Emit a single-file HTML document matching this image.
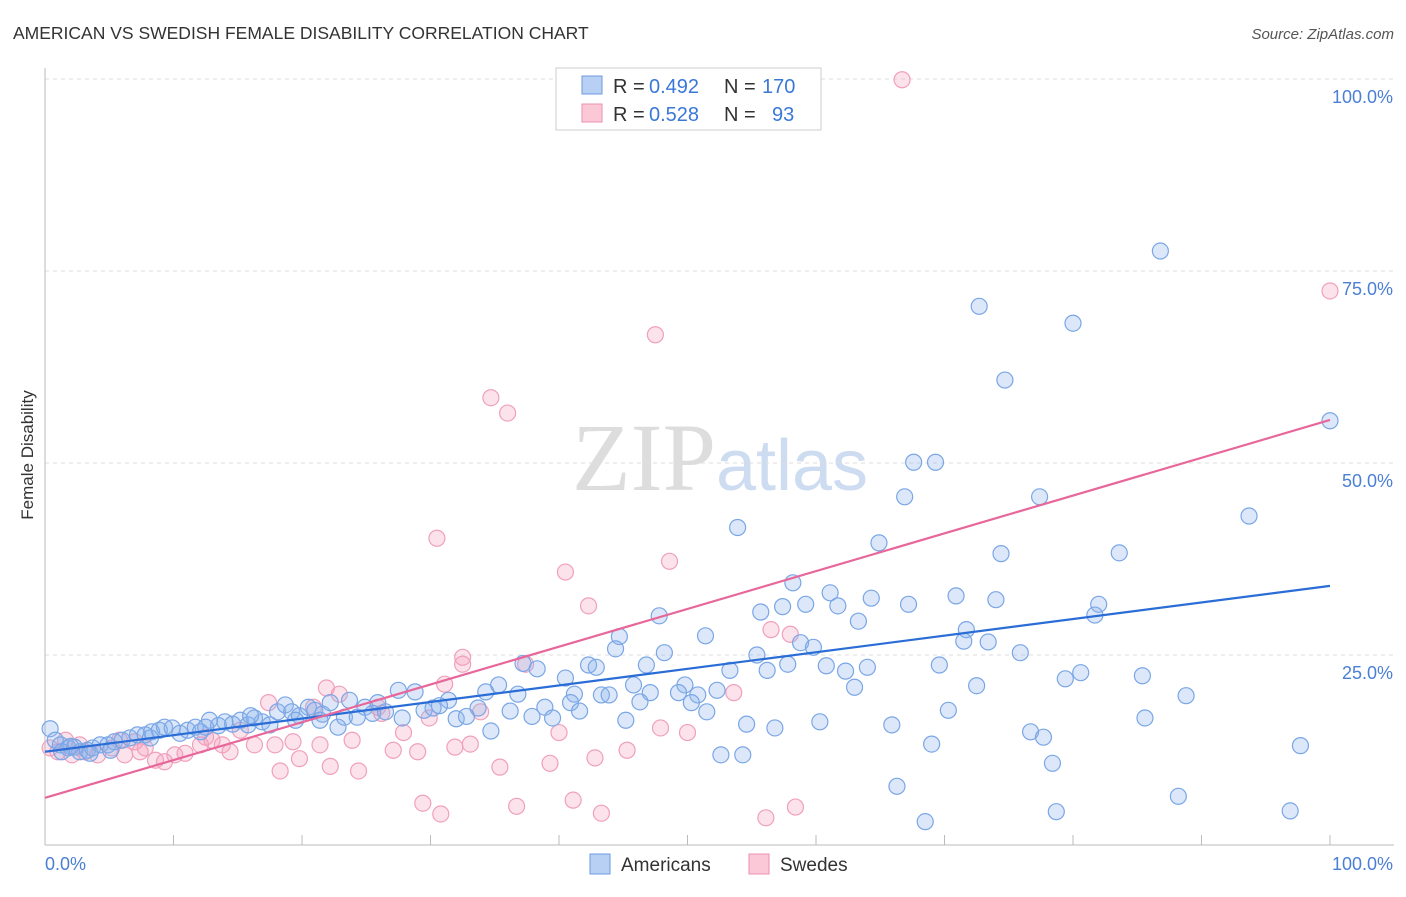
<!DOCTYPE html>
<html><head><meta charset="utf-8"><style>
body{margin:0;background:#fff;font-family:"Liberation Sans",sans-serif}
</style></head><body>
<svg id="chart" width="1406" height="892" xmlns="http://www.w3.org/2000/svg" font-family="Liberation Sans, sans-serif">
<text x="13" y="39" font-size="17.5" fill="#333">AMERICAN VS SWEDISH FEMALE DISABILITY CORRELATION CHART</text>
<text x="1394" y="39" font-size="15" fill="#555" text-anchor="end" font-style="italic">Source: ZipAtlas.com</text>
<text x="720" y="490" font-size="96" text-anchor="middle" fill="#ddd" font-family="Liberation Serif, serif">ZIP<tspan fill="#cddcf0" font-family="Liberation Sans, sans-serif" font-size="72">atlas</tspan></text>
<text transform="translate(33,455) rotate(-90)" font-size="17" fill="#333" text-anchor="middle">Female Disability</text>
<g id="grid"></g><g id="pts"></g><g id="trend"></g>
<g font-size="20">
<rect x="556" y="68" width="265" height="62" fill="#fff" stroke="#ccc"/>
<rect x="582" y="76" width="20" height="18" fill="#b7d0f3" stroke="#6c9be0"/>
<rect x="582" y="104" width="20" height="18" fill="#fbc8d8" stroke="#ee8fb0"/>
<text x="613" y="93" fill="#333">R =</text><text x="649" y="93" fill="#3a78d8">0.492</text>
<text x="724" y="93" fill="#333">N =</text><text x="762" y="93" fill="#3a78d8">170</text>
<text x="613" y="121" fill="#333">R =</text><text x="649" y="121" fill="#3a78d8">0.528</text>
<text x="724" y="121" fill="#333">N =</text><text x="772" y="121" fill="#3a78d8">93</text>
</g>
<g>
<rect x="590" y="854" width="20" height="20" fill="#b7d0f3" stroke="#6c9be0"/>
<text x="621" y="871" font-size="19" fill="#333">Americans</text>
<rect x="749" y="854" width="20" height="20" fill="#fbc8d8" stroke="#ee8fb0"/>
<text x="780" y="871" font-size="19" fill="#333">Swedes</text>
</g>
</svg>
<script>
const blueX=[86.8,72.7,80,74.7,100,67.6,69.3,66.9,77.4,53.9,93.7,64.9,74.4,83.6,58.2,61.1,64.3,70.9,74,55.7,57.4,59.2,61.7,67.2,82,81.7,47.8,63.3,71.7,51.4,44.7,71.5,73.4,58.8,59.8,48.2,44.4,75.9,55.4,37.2,38.3,42.3,42.9,46.8,57.8,60.8,62.3,64,69.6,56.2,53.3,40.5,80.6,79.4,85.4,45.8,49.8,63,72.5,35.3,34.3,27.5,28.8,36.8,41.2,43.3,43.9,47.1,49.3,50.8,52.3,88.8,46.3,50.3,31.4,23.7,25.9,33.7,36.2,38.9,40.9,41.6,51.5,70.3,32,32.8,37.9,39.5,45.2,85.6,34.7,54.6,56.8,60.3,65.9,76.7,77.7,69,97.7,52.6,54.3,78.4,66.3,88.2,78.7,96.9,68.5,0.4,0.8,1.2,1.8,2.3,2.7,3.3,3.7,4.3,4.9,5.4,6,6.6,7.2,7.8,8.3,8.9,9.3,9.9,10.5,11.1,11.7,12.1,12.8,13.5,14,14.6,15.2,15.8,16.3,16.9,17.5,18.1,18.7,19.2,19.8,20.5,21,21.6,22.2,22.8,23.3,24.3,24.9,25.5,26.5,27.8,29.5,30.2,30.7,21.4,19.5,16,12.5,8.2,5.1,3.5,2,1.3];
const blueY=[77.6,70.4,68.2,60.8,55.5,50.1,50.1,45.6,45.6,41.6,43.1,39.6,38.2,38.3,34.4,33.1,32.4,32.7,32.2,30.6,31.3,31.6,31.4,31.6,31.6,30.2,30.1,29.4,28.3,27.5,27.4,26.8,26.7,26.6,26,25.3,25.8,25.3,25,23.9,23.2,23.7,23.4,23.7,23.8,23.6,22.9,23.4,23.7,23,23,22,22.7,21.9,22.3,21.1,21.1,20.8,21,21.1,20.2,20.4,20.2,19.9,19.9,19.8,19.8,20.1,20.1,19.8,20.4,19.7,18.9,18.8,19.1,19.1,18.8,18.1,17.7,18.2,18.8,17.7,17.6,17.8,16.7,17,17,16.8,16.5,16.8,15.1,16,15.5,16.3,15.9,15,14.3,13.4,13.2,12,12,10.9,7.9,6.6,4.6,4.7,3.3,15.4,13.9,13.3,12.9,13,12.4,12.6,12.9,13.3,13.3,13.7,13.9,14.2,14.6,14.6,15,15.2,15.6,15.5,14.8,15.2,15.6,15,16.5,15.8,16.3,16,16.5,15.9,16.8,16.3,15.9,17.6,18.5,17.6,17.1,18.2,17.8,17.3,18.8,15.6,16.9,16.9,18.2,17.4,17.6,16.8,17.8,18.1,18.4,16.5,16.5,17.1,15.6,14.2,12.6,12.2,13.1,12.4];
const pinkX=[66.7,100,47.5,34.7,36,30.5,48.6,40.5,42.3,56.5,58,32.5,32.5,37.4,21.9,31.1,53.6,17.4,22.9,25.9,20.9,33.9,26.2,29.9,47.9,27.9,50,40,23.9,19.3,21.4,33.1,31.9,45.3,17.9,27.1,29,19.8,42.8,39.3,22.2,35.4,24.4,18.3,29.4,41.1,36.7,58.4,30.8,43.3,56.1,0.4,1,1.6,2.1,3.1,4.1,5.2,6.2,7,7.8,8.6,9.3,10.1,10.9,12.1,13,13.8,14.4,15.2,16.3,5.8,2.7,12.5,7.4];
const pinkY=[99.9,72.4,66.7,58.5,56.5,40.2,37.2,35.8,31.4,28.3,27.7,24.7,23.8,23.8,20.7,21.2,20.1,18.8,19.9,18.2,18.2,17.6,17.4,16.8,15.5,14.9,14.9,14.9,13.9,13.7,13.3,13.4,13,12.6,13.3,12.6,12.4,11.5,11.6,10.9,10.5,10.4,9.9,9.9,5.7,6.1,5.3,5.2,4.3,4.4,3.8,12.9,12.4,13.9,12,12.4,12,12.9,12,13.7,12.9,11.3,11.1,12,12.2,13.3,13.9,13.3,12.4,15.2,13.3,13.9,13.3,14.3,12.4];
const blueTrend=[12.4,34];
const pinkTrend=[6.4,55.6];
const yTicks=[25,50,75,100];
const xTicks=[0,10,20,30,40,50,60,70,80,90,100];
const NS="http://www.w3.org/2000/svg";
const X=v=>45+v*12.85, Y=v=>847-v*7.68;
function mk(tag,attrs,parent){const e=document.createElementNS(NS,tag);for(const k in attrs)e.setAttribute(k,attrs[k]);parent.appendChild(e);return e;}
const grid=document.getElementById('grid');
for(const t of yTicks){
 const l=mk('line',{x1:45,x2:1394,y1:Y(t),y2:Y(t),stroke:'#ddd','stroke-dasharray':'4,4'},grid);
 
 
 const tx=mk('text',{x:1393,y:Y(t)+24,'font-size':18,fill:'#4a7fd4','text-anchor':'end'},grid);
 tx.textContent=t.toFixed(1)+'%';
 
 
}
const ax=mk('line',{x1:45,x2:1394,y1:845,y2:845,stroke:'#bbb'},grid);


const ay=mk('line',{x1:45,x2:45,y1:68,y2:845,stroke:'#bbb'},grid);


for(const t of xTicks){
 const l=mk('line',{x1:X(t),x2:X(t),y1:835,y2:845,stroke:'#bbb'},grid);
 
 
}
const xl0=mk('text',{x:45,y:870,'font-size':18,fill:'#4a7fd4'},grid);xl0.textContent='0.0%';


const xl1=mk('text',{x:1393,y:870,'font-size':18,fill:'#4a7fd4','text-anchor':'end'},grid);xl1.textContent='100.0%';


const pts=document.getElementById('pts');
pinkX.forEach((x,i)=>{const c=mk('circle',{cx:X(x),cy:Y(pinkY[i]),r:8,fill:'rgba(246,160,190,0.3)',stroke:'#f0a0bc','stroke-width':1.2},pts);
 
 });
blueX.forEach((x,i)=>{const c=mk('circle',{cx:X(x),cy:Y(blueY[i]),r:8,fill:'rgba(140,180,235,0.3)',stroke:'#7aa6e6','stroke-width':1.2},pts);
 
 });
const tr=document.getElementById('trend');
const bl=mk('line',{x1:X(0),y1:Y(blueTrend[0]),x2:X(100),y2:Y(blueTrend[1]),stroke:'#2a6dd6','stroke-width':2.2},tr);


const pl=mk('line',{x1:X(0),y1:Y(pinkTrend[0]),x2:X(100),y2:Y(pinkTrend[1]),stroke:'#e8679a','stroke-width':2.2},tr);


</script>
</body></html>
